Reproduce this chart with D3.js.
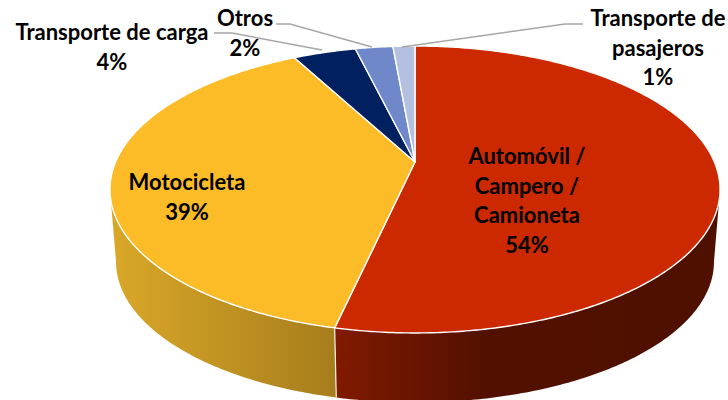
<!DOCTYPE html>
<html lang="es">
<head>
    <meta charset="UTF-8">
    <title>Pie 3D</title>
    <script src="https://d3js.org/d3.v7.min.js"></script>
    <style>
        html, body { margin: 0; background: white; }
        svg { display: block; }
        text { font-family: Lato, "Open Sans", sans-serif; font-weight: 700; font-size: 22px; fill: #000; text-anchor: middle; }
    </style>
</head>
<body>
    <svg id="chart" width="728" height="400"></svg>
    <script>
        // Slice values, clockwise from 12 o'clock
        const categories = ["Automóvil / Campero / Camioneta", "Motocicleta", "Transporte de carga", "Otros", "Transporte de pasajeros"];
        const shares = [53.5, 38.7, 4.0, 2.4, 1.4];
        const sliceColors = ["#cc2900", "#fbbc28", "#002060", "#6f88c9", "#b4c0e0"];
        const sideGradients = [
            [{offset: "0%", color: "#801a00"}, {offset: "40%", color: "#521000"}, {offset: "100%", color: "#4f1000"}],
            [{offset: "0%", color: "#d8a628"}, {offset: "100%", color: "#a67d1c"}]
        ];
        // label lines per category, the percent line is added from the shares
        const labelLines = [["Automóvil /", "Campero /", "Camioneta"], ["Motocicleta"], ["Transporte de carga"], ["Otros"], ["Transporte de", "pasajeros"]];
        const labelAnchors = [[527, 164], [187, 190], [112, 40], [245, 26], [658, 26]];
        const leaders = [null, null, [[214, 33], [232, 33], [322, 50]], [[276, 24], [290, 24], [372, 47]], [[583, 24], [565, 24], [402, 47]]];

        const svg = d3.select("#chart");
        const tilt = 0.1916;   // perspective of the disc

        // turns an angle (0 = top, clockwise) and radius into a screen point on a disc
        function project(disc, angle, r = 1) {
            const x = Math.sin(angle) * r, y = -Math.cos(angle) * r;
            const w = 1 - tilt * y;
            return [disc.cx + disc.a * x / w, disc.cy + disc.b * y / w];
        }

        const topDisc = {cx: 415, cy: 162, a: 299.4, b: 138.2};
        const lowDisc = {cx: 415, cy: 235, a: 293.4, b: 135.4};

        const pie = d3.pie().sort(null)(shares);
        const line = d3.line();

        function rim(disc, from, to) {
            const n = Math.max(2, Math.ceil(Math.abs(to - from) / 0.01));
            return d3.range(n + 1).map(i => project(disc, from + (to - from) * i / n));
        }

        const defs = svg.append("defs");
        sideGradients.forEach((stops, i) => {
            const g = defs.append("linearGradient").attr("id", "side" + i)
                .attr("gradientUnits", "userSpaceOnUse")
                .attr("x1", i == 0 ? 337 : 118).attr("x2", i == 0 ? 715 : 337)
                .attr("y1", 0).attr("y2", 0);
            g.selectAll("stop").data(stops).enter().append("stop")
                .attr("offset", d => d.offset)
                .attr("stop-color", d => d.color);
        });

        // side wall, only the part turned towards the viewer
        const silhouette = Math.acos(-tilt);
        [pie[0], pie[1]].forEach((s, i) => {
            const from = Math.max(s.startAngle, silhouette);
            const to = Math.min(s.endAngle, 2 * Math.PI - silhouette);
            const pts = rim(topDisc, from, to).concat(rim(lowDisc, to, from));
            svg.append("path")
                .attr("d", line(pts) + "Z")
                .attr("fill", "url(#side" + i + ")");
        });
        // white seam between the two walls
        svg.append("path")
            .attr("d", line([project(topDisc, pie[0].endAngle), project(lowDisc, pie[0].endAngle)]))
            .attr("stroke", "#f2f2f2").attr("stroke-width", 1.2).attr("fill", "none");

        // top of the pie
        svg.selectAll("path.slice").data(pie).enter().append("path")
            .attr("class", "slice")
            .attr("d", d => line([project(topDisc, 0, 0)].concat(rim(topDisc, d.startAngle, d.endAngle))) + "Z")
            .attr("fill", (d, i) => sliceColors[i])
            .attr("stroke", "white").attr("stroke-width", 1.4).attr("stroke-linejoin", "round");

        // leader lines
        leaders.forEach(pts => {
            if (!pts) return;
            svg.append("path").attr("d", line(pts))
                .attr("fill", "none").attr("stroke", "#a6a6a6").attr("stroke-width", 1.5);
        });

        // labels
        categories.forEach((c, i) => {
            const rows = labelLines[i].concat(Math.round(shares[i]) + "%");
            const t = svg.append("text").attr("aria-label", c);
            rows.forEach((row, j) => {
                t.append("tspan").attr("x", labelAnchors[i][0]).attr("y", labelAnchors[i][1] + j * 29.5).text(row);
            });
        });
    </script>
</body>
</html>
